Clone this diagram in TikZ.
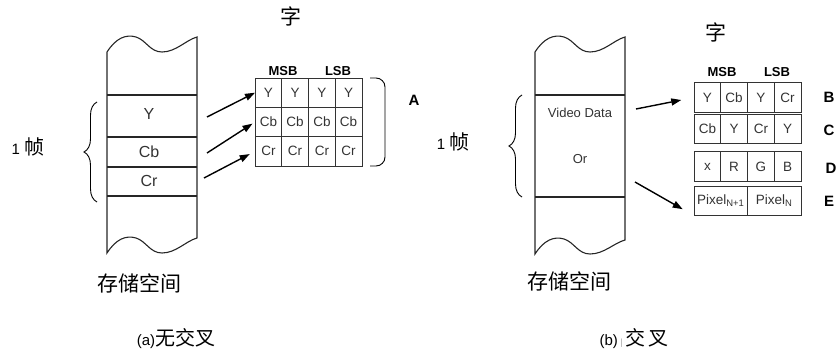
\documentclass[tikz,border=0pt]{standalone}
\usepackage{fontspec}
\setmainfont{Liberation Sans}
\newfontfamily\cjk{Noto Sans CJK SC}
\usepackage{tikz}
\usetikzlibrary{arrows.meta,decorations.pathreplacing}

\begin{document}
\begin{tikzpicture}[
    x=1pt, y=-1pt,
    colline/.style={line width=1.1pt, black!85},
    coltext/.style={font=\fontsize{16}{18}\selectfont, text=black!80},
    vidtext/.style={font=\fontsize{13}{15}\selectfont, text=black!80},
    cell/.style={
        draw=black!80, line width=0.8pt, minimum width=26.75pt, minimum height=29.3pt,
        inner sep=0pt, outer sep=0pt, font=\fontsize{13.5}{15}\selectfont, text=black!80
    },
    widecell/.style={cell, minimum width=53.5pt},
    bitlabel/.style={font=\bfseries\fontsize{13}{15}\selectfont},
    rowlabel/.style={font=\bfseries\fontsize{15}{17}\selectfont},
    cjklabel/.style={font=\cjk\fontsize{21}{23}\selectfont},
    framelabel/.style={font=\fontsize{15}{18}\selectfont},
    caplabel/.style={font=\fontsize{15}{18}\selectfont},
    arr/.style={-{Triangle[length=10pt,width=7pt]}, line width=1.4pt},
    brc/.style={decorate, decoration={brace, amplitude=13pt}, line width=0.9pt},
    brkt/.style={rounded corners=9pt, line width=0.9pt}
]
\useasboundingbox (0,0) rectangle (837,353);

% (a) memory column, no interleave
\draw[colline] (107,52) .. controls (116,38) and (126,34) .. (136,37)
    .. controls (146,40) and (150,52) .. (162,52)
    .. controls (176,52) and (186,40) .. (197,37) -- (197,238)
    .. controls (186,241) and (176,253) .. (162,253)
    .. controls (150,253) and (146,241) .. (136,238)
    .. controls (126,235) and (116,239) .. (107,253) -- cycle;
\draw[colline] (107,95) -- (197,95);
\draw[colline] (107,137) -- (197,137);
\draw[colline] (107,167) -- (197,167);
\draw[colline] (107,196) -- (197,196);

\node[coltext] (segy) at (149,114) {Y};
\node[coltext] (segcb) at (149,152) {Cb};
\node[coltext] (segcr) at (149,181) {Cr};

\draw[brc] (97,202) -- (97,102);
\node[framelabel] (framea) at (28,147) {1 {\cjk\fontsize{20}{22}\selectfont 帧}};
\node[cjklabel] (mema) at (139,283) {存储空间};

% word A
\node[cjklabel] (worda) at (291,16) {字};
\node[bitlabel] (msba) at (283,71) {MSB};
\node[bitlabel] (lsba) at (338,71) {LSB};

\node[cell] (a11) at (268.4,92.7) {Y};
\node[cell] (a12) at (295.1,92.7) {Y};
\node[cell] (a13) at (321.9,92.7) {Y};
\node[cell] (a14) at (348.6,92.7) {Y};
\node[cell] (a21) at (268.4,122) {Cb};
\node[cell] (a22) at (295.1,122) {Cb};
\node[cell] (a23) at (321.9,122) {Cb};
\node[cell] (a24) at (348.6,122) {Cb};
\node[cell] (a31) at (268.4,151.3) {Cr};
\node[cell] (a32) at (295.1,151.3) {Cr};
\node[cell] (a33) at (321.9,151.3) {Cr};
\node[cell] (a34) at (348.6,151.3) {Cr};

\draw[brkt] (370,78) -- (385,78) -- (385,166) -- (370,166);
\node[rowlabel] (labela) at (414,100) {A};

\coordinate (fromy) at (207,117);
\coordinate (fromcb) at (207,153);
\coordinate (fromcr) at (204,178);
\draw[arr] (fromy) -- (a11.west);
\draw[arr, shorten >=3pt] (fromcb) -- (a21.west);
\draw[arr, shorten >=6pt] (fromcr) -- (a31.west);

\node[caplabel] (capa) at (176,339) {(a){\cjk\fontsize{20}{22}\selectfont 无交叉}};

% (b) memory column, interleaved
\begin{scope}[xshift=428pt]
\draw[colline] (107,52) .. controls (116,38) and (126,34) .. (136,37)
    .. controls (146,40) and (150,52) .. (162,52)
    .. controls (176,52) and (186,40) .. (197,37) -- (197,240)
    .. controls (186,243) and (176,254) .. (162,254)
    .. controls (150,254) and (146,242) .. (136,239)
    .. controls (126,236) and (116,240) .. (107,254) -- cycle;
\draw[colline] (107,95) -- (197,95);
\draw[colline] (107,197) -- (197,197);
\end{scope}

\node[vidtext] (segvid) at (580,113) {Video Data};
\node[vidtext] (segor) at (580,159) {Or};

\draw[brc] (522,197) -- (522,95);
\node[framelabel] (frameb) at (453,142) {1 {\cjk\fontsize{20}{22}\selectfont 帧}};
\node[cjklabel] (memb) at (569,281) {存储空间};

% words B to E
\node[cjklabel] (wordb) at (716,32) {字};
\node[bitlabel] (msbb) at (722,72) {MSB};
\node[bitlabel] (lsbb) at (777,72) {LSB};

\node[cell] (b1) at (707.4,97.5) {Y};
\node[cell] (b2) at (734.1,97.5) {Cb};
\node[cell] (b3) at (760.9,97.5) {Y};
\node[cell] (b4) at (787.6,97.5) {Cr};

\node[cell] (c1) at (707.4,129) {Cb};
\node[cell] (c2) at (734.1,129) {Y};
\node[cell] (c3) at (760.9,129) {Cr};
\node[cell] (c4) at (787.6,129) {Y};

\node[cell] (d1) at (707.4,166.5) {x};
\node[cell] (d2) at (734.1,166.5) {R};
\node[cell] (d3) at (760.9,166.5) {G};
\node[cell] (d4) at (787.6,166.5) {B};

\node[widecell] (e1) at (720.75,201) {Pixel\textsubscript{N+1}};
\node[widecell] (e2) at (774.25,201) {Pixel\textsubscript{N}};

\node[rowlabel] (labelb) at (829,97) {B};
\node[rowlabel] (labelc) at (829,130) {C};
\node[rowlabel] (labeld) at (831,168) {D};
\node[rowlabel] (labele) at (829,201) {E};

\coordinate (fromtop) at (636,109);
\coordinate (frombot) at (635,182);
\draw[arr, shorten >=13pt] (fromtop) -- (b1.west);
\draw[arr, shorten >=13pt] (frombot) -- (e1.south west);

\node[caplabel] (capb) at (634,339) {(b)\,{\color{black!35}\fontsize{9}{10}\selectfont|}\,{\cjk\fontsize{20}{22}\selectfont 交\,叉}};

\end{tikzpicture}
\end{document}
